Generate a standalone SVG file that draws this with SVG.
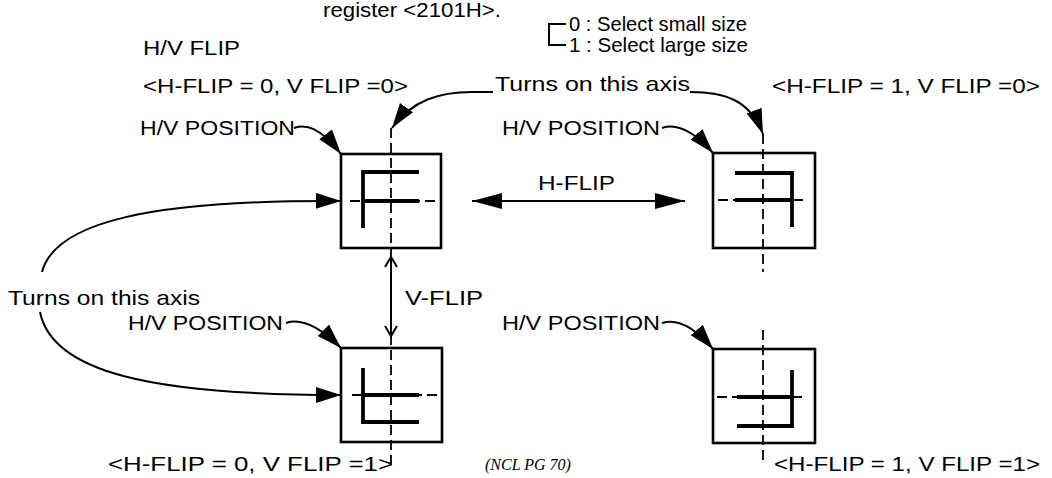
<svg xmlns="http://www.w3.org/2000/svg" width="1052" height="478" viewBox="0 0 1052 478">
<style>
  text { font-family: "Liberation Sans", Arial, sans-serif; font-size: 21px; fill: #000; }
  .note { font-family: "Liberation Serif", "Times New Roman", serif; font-style: italic; font-size: 16px; }
  .box { fill: #fff; stroke: #000; stroke-width: 2.6; }
  .glyph { fill: none; stroke: #000; stroke-width: 3.8; }
  .axis { fill: none; stroke: #000; stroke-width: 1.8; stroke-dasharray: 10 5; }
  .conn { fill: none; stroke: #000; stroke-width: 2; }
</style>
<defs>
  <marker id="head" markerUnits="userSpaceOnUse" markerWidth="28" markerHeight="18" refX="25" refY="8" orient="auto">
    <path d="M0,0 L25,8 L0,16 Z" fill="#000"/>
  </marker>
  <marker id="bighead" markerUnits="userSpaceOnUse" markerWidth="32" markerHeight="18" refX="30" refY="8" orient="auto-start-reverse">
    <path d="M0,0 L30,8 L0,16 Z" fill="#000"/>
  </marker>
  <marker id="open" markerUnits="userSpaceOnUse" markerWidth="14" markerHeight="16" refX="11" refY="7" orient="auto-start-reverse">
    <path d="M1,1 L11,7 L1,13" fill="none" stroke="#000" stroke-width="2"/>
  </marker>
</defs>

<g id="header">
  <text x="323" y="17" textLength="178" lengthAdjust="spacingAndGlyphs">register &lt;2101H&gt;.</text>
  <path d="M566,24 H549 V45 H566" class="conn"/>
  <text x="569" y="31" textLength="178" lengthAdjust="spacingAndGlyphs">0 : Select small size</text>
  <text x="569" y="52" textLength="179" lengthAdjust="spacingAndGlyphs">1 : Select large size</text>
  <text x="143" y="55" textLength="97" lengthAdjust="spacingAndGlyphs">H/V FLIP</text>
</g>

<g id="node-00">
  <text x="143" y="93" textLength="265" lengthAdjust="spacingAndGlyphs">&lt;H-FLIP = 0, V FLIP =0&gt;</text>
  <text x="140" y="135" textLength="155" lengthAdjust="spacingAndGlyphs">H/V POSITION</text>
  <rect class="box" x="341" y="154" width="100" height="94"/>
  <path class="axis" d="M391,128 V268"/>
  <path class="axis" d="M350,201 H439"/>
  <path class="glyph" d="M419,172 H363 V228 M363,201 H419"/>
</g>

<g id="node-10">
  <text x="772" y="93" textLength="268" lengthAdjust="spacingAndGlyphs">&lt;H-FLIP = 1, V FLIP =0&gt;</text>
  <text x="502" y="135" textLength="158" lengthAdjust="spacingAndGlyphs">H/V POSITION</text>
  <rect class="box" x="713" y="153" width="102" height="95"/>
  <path class="axis" d="M763,134 V272"/>
  <path class="axis" d="M718,200 H805"/>
  <path class="glyph" d="M735,173 H792 V227 M735,200 H792"/>
</g>

<g id="node-01">
  <text x="128" y="330" textLength="155" lengthAdjust="spacingAndGlyphs">H/V POSITION</text>
  <rect class="box" x="341" y="348" width="101" height="94"/>
  <path class="axis" d="M391,335 V465"/>
  <path class="axis" d="M352,395 H439"/>
  <path class="glyph" d="M363,368 V422 H419 M363,395 H419"/>
  <text x="108" y="471" textLength="285" lengthAdjust="spacingAndGlyphs">&lt;H-FLIP = 0, V FLIP =1&gt;</text>
</g>

<g id="node-11">
  <text x="502" y="330" textLength="158" lengthAdjust="spacingAndGlyphs">H/V POSITION</text>
  <rect class="box" x="713" y="349" width="102" height="94"/>
  <path class="axis" d="M763,330 V462"/>
  <path class="axis" d="M717,397 H803"/>
  <path class="glyph" d="M792,370 V426 H737 M737,397 H792"/>
  <text x="774" y="471" textLength="266" lengthAdjust="spacingAndGlyphs">&lt;H-FLIP = 1, V FLIP =1&gt;</text>
</g>

<g id="labels">
  <text x="495" y="91" textLength="195" lengthAdjust="spacingAndGlyphs">Turns on this axis</text>
  <text x="538" y="190" textLength="77" lengthAdjust="spacingAndGlyphs">H-FLIP</text>
  <text x="8" y="305" textLength="192" lengthAdjust="spacingAndGlyphs">Turns on this axis</text>
  <text x="405" y="305" textLength="78" lengthAdjust="spacingAndGlyphs">V-FLIP</text>
  <text class="note" x="485" y="470">(NCL PG 70)</text>
</g>

<g id="connectors">
  <path class="conn" marker-end="url(#head)" d="M294,128 C306,124 320,127 341,154"/>
  <path class="conn" marker-end="url(#head)" d="M662,128 C674,124 690,127 713,153"/>
  <path class="conn" marker-end="url(#head)" d="M286,323 C298,319 315,322 341,348"/>
  <path class="conn" marker-end="url(#head)" d="M662,323 C674,319 690,322 713,349"/>
  <path class="conn" marker-end="url(#head)" d="M493,92 L472,92 C440,92 412,100 392,128"/>
  <path class="conn" marker-end="url(#head)" d="M690,92 C725,92 750,100 763,134"/>
  <path class="conn" marker-end="url(#bighead)" marker-start="url(#bighead)" d="M472,201 H685"/>
  <path class="conn" marker-end="url(#open)" marker-start="url(#open)" d="M391,257 V336"/>
  <path class="conn" marker-end="url(#head)" d="M42,272 C55,222 150,200 341,201"/>
  <path class="conn" marker-end="url(#head)" d="M40,312 C52,372 150,395 341,395"/>
</g>
</svg>
